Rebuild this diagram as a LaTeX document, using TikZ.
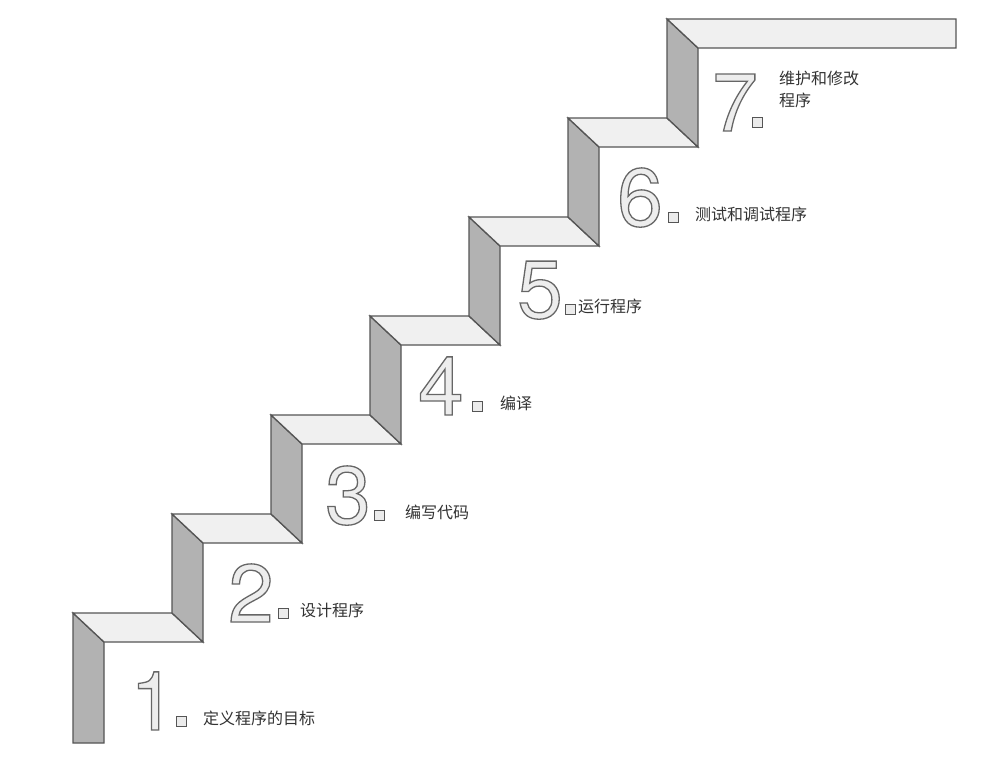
\documentclass[tikz,border=0pt]{standalone}
\usepackage{fontspec}
\newfontfamily\cjk{Noto Sans CJK SC}
\newfontfamily\digitfont{TeX Gyre Heros}
\newcommand{\outl}[1]{\special{pdf:literal direct 2 Tr 1.3 w 0.4 0.4 0.4 RG 0.93 0.93 0.93 rg}#1\special{pdf:literal direct 0 Tr}}
\begin{document}
\begin{tikzpicture}[x=1pt,y=-1pt,
  edge/.style={draw={rgb,255:red,85;green,85;blue,85},line width=1.3pt,line join=miter},
  riser/.style={edge,fill={rgb,255:red,178;green,178;blue,178}},
  tread/.style={edge,fill={rgb,255:red,240;green,240;blue,240}},
  digit/.style={anchor=base west,inner sep=0pt,font=\digitfont\fontsize{82}{82}\selectfont},
  sq/.style={draw={rgb,255:red,85;green,85;blue,85},line width=1.2pt,fill={rgb,255:red,235;green,235;blue,235},minimum size=10pt,inner sep=0pt,anchor=south west},
  lab/.style={anchor=base west,inner sep=0pt,font=\cjk\fontsize{16}{22}\selectfont,text={rgb,255:red,50;green,50;blue,50},align=left}]
\useasboundingbox (0,0) rectangle (1003,760);
% step 1 riser
\draw[riser] (73,613) -- (104,642) -- (104,743) -- (73,743) -- cycle;
\foreach \k in {1,...,6}{
  \pgfmathsetmacro\xa{73+99*(\k-1)}
  \pgfmathsetmacro\ya{613-99*(\k-1)}
  \pgfmathsetmacro\xb{\xa+99}
  \pgfmathsetmacro\yb{\ya-99}
  \draw[tread] (\xa,\ya) -- (\xb,\ya) -- (\xb+31,\ya+29) -- (\xa+31,\ya+29) -- cycle;
  \draw[riser] (\xb,\yb) -- (\xb+31,\yb+29) -- (\xb+31,\ya+29) -- (\xb,\ya) -- cycle;
}
\draw[tread] (667,19) -- (956,19) -- (956,48) -- (698,48) -- cycle;
% digits, squares, labels
\foreach \n/\dx/\by/\sx/\lx/\t in {1/130/730/176/203/定义程序的目标, 2/228/622/278/300/设计程序, 3/325/524/374/405/编写代码, 4/418/415/472/500/编译, 5/517/318/565/578/运行程序, 6/617/226/668/695/测试和调试程序}{
  \node[digit] (d\n) at (\dx,\by) {\outl{\n}};
  \node[sq] (s\n) at (\sx,\by-3) {};
  \node[lab] (l\n) at (\lx,\by-6) {\t};
}
\node[digit] (d7) at (712,131) {\outl{7}};
\node[sq] (s7) at (752,128) {};
\node[lab] (l7) at (779,106) {维护和修改\\程序};
\end{tikzpicture}
\end{document}
